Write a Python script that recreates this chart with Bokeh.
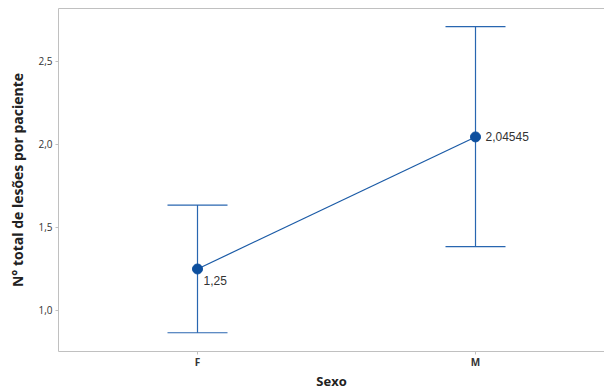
from bokeh.plotting import figure
from bokeh.models import (ColumnDataSource, Whisker, TeeHead, FixedTicker,
                          CustomJSTickFormatter, Range1d, LinearAxis)
from bokeh.embed import file_html
from bokeh.resources import INLINE

categories = ["F", "M"]
means = [1.25, 2.04545]
upper = [1.635, 2.71]
lower = [0.866, 1.385]
mean_labels = ["1,25", "2,04545"]
y_ticks = [1.0, 1.5, 2.0, 2.5]

xs = list(range(len(categories)))
src = ColumnDataSource(dict(x=xs, mean=means, upper=upper, lower=lower,
                            label=mean_labels))

p = figure(width=604, height=392, output_backend="svg", toolbar_location=None,
           x_range=Range1d(-0.5, 1.464), y_range=Range1d(0.753, 2.819),
           min_border_left=58, min_border_right=0, min_border_top=8,
           min_border_bottom=41)
p.outline_line_color = None
p.xgrid.visible = False
p.ygrid.visible = False
p.background_fill_color = "white"
p.border_fill_color = "white"

w = Whisker(base="x", upper="upper", lower="lower", source=src,
            dimension="height", line_color="#2866b0", line_width=1.2,
            upper_head=TeeHead(size=60, line_color="#2866b0", line_width=1.2),
            lower_head=TeeHead(size=60, line_color="#2866b0", line_width=1.2))
p.add_layout(w)

p.line("x", "mean", source=src, line_color="#1a5aa6", line_width=1.2)
p.scatter("x", "mean", source=src, size=10, color="#0d4f9e")

# data labels
p.text(x=[xs[0]], y=[means[0]], text=[mean_labels[0]], x_offset=6, y_offset=7,
       text_baseline="top", text_font_size="12px", text_color="#333333",
       text_font={"value": "Liberation Sans"})
p.text(x=[xs[1]], y=[means[1]], text=[mean_labels[1]], x_offset=10, y_offset=0,
       text_baseline="middle", text_font_size="12px", text_color="#333333",
       text_font={"value": "Liberation Sans"})

xa = p.below[0]
ya = p.left[0]
for ax in (xa, ya):
    ax.axis_line_color = "#c0c0c0"
    ax.major_tick_line_color = "#c0c0c0"
    ax.minor_tick_line_color = None
    ax.major_tick_in = 0
    ax.major_tick_out = 3
    ax.major_label_text_font = "Open Sans"
    ax.major_label_text_font_size = "10px"
    ax.major_label_text_color = "#333333"
    ax.axis_label_text_font = "Open Sans"
    ax.axis_label_text_font_style = "bold"
    ax.axis_label_text_color = "#222222"
    ax.major_label_standoff = 3

xa.ticker = FixedTicker(ticks=xs)
xa.major_label_overrides = {i: c for i, c in enumerate(categories)}
xa.major_label_text_font_style = "bold"
xa.major_label_standoff = 0
xa.axis_label = "Sexo"
xa.axis_label_standoff = 0
xa.axis_label_text_font_size = "13px"

ya.ticker = FixedTicker(ticks=y_ticks)
ya.formatter = CustomJSTickFormatter(code="return tick.toFixed(1).replace('.', ',');")
ya.axis_label = "N° total de lesões por paciente"
ya.axis_label_standoff = 8
ya.axis_label_text_font_size = "14px"

# top border of the frame
top = LinearAxis(ticker=FixedTicker(ticks=[]), major_tick_line_color=None,
                 minor_tick_line_color=None, major_label_text_font_size="0px",
                 major_label_standoff=0, axis_line_color="#c0c0c0")
p.add_layout(top, "above")

open("out.html", "w").write(file_html(p, INLINE))
